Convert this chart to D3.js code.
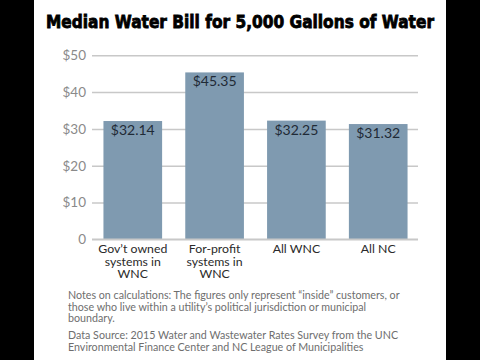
<!DOCTYPE html>
<html><head><meta charset="utf-8">
<script src="https://cdn.jsdelivr.net/npm/d3@7"></script>
<style>
html,body{margin:0;padding:0;background:#000;}
svg{display:block;}
</style></head>
<body>
<svg id="c" width="480" height="360"></svg>
<script>
const title = "Median Water Bill for 5,000 Gallons of Water";
const categories = [["Gov\u2019t owned","systems in","WNC"],["For-profit","systems in","WNC"],["All WNC"],["All NC"]];
const values = [32.14, 45.35, 32.25, 31.32];
const valueLabels = ["$32.14","$45.35","$32.25","$31.32"];
const yTicks = [0,10,20,30,40,50];
const yTickLabels = ["0","$10","$20","$30","$40","$50"];
const notes = [
  ["Notes on calculations: The figures only represent \u201Cinside\u201D customers, or",
   "those who live within a utility\u2019s political jurisdiction or municipal",
   "boundary."],
  ["Data Source: 2015 Water and Wastewater Rates Survey from the UNC",
   "Environmental Finance Center and NC League of Municipalities"]
];

const svg = d3.select("#c");
svg.append("rect").attr("x",34).attr("y",0).attr("width",412).attr("height",360).attr("fill","#fff");

svg.append("text").attr("x",240).attr("y",27.5).attr("text-anchor","middle")
  .attr("font-family","'DejaVu Sans', sans-serif").attr("font-weight","bold")
  .attr("font-size",17).attr("textLength",388).attr("lengthAdjust","spacingAndGlyphs")
  .attr("fill","#000").attr("stroke","#000").attr("stroke-width",0.8).text(title);

const y = d3.scaleLinear().domain([0,50]).range([239.3,55.3]);
const x = d3.scaleBand().domain(d3.range(values.length)).range([92,419]).paddingInner(0.283).paddingOuter(0.14);

const font = "Lato, 'Open Sans', sans-serif";

// grid + ticks
const yAxis = d3.axisLeft(y).tickValues(yTicks).tickFormat((d,i)=>yTickLabels[i]).tickSize(-(418-92)).tickPadding(6);
const ga = svg.append("g").attr("transform","translate(92,0)").call(yAxis);
ga.select(".domain").remove();
ga.selectAll(".tick line").attr("stroke","#c8c8c8").attr("stroke-width",1.5).attr("x1",0);
ga.selectAll(".tick text").attr("font-family",font).attr("font-size",13.5).attr("fill","#8a8a8a");

// bars
svg.append("g").selectAll("rect").data(values).join("rect")
  .attr("x",(d,i)=>x(i)).attr("width",x.bandwidth())
  .attr("y",d=>y(d)).attr("height",d=>y(0)-y(d)).attr("fill","#7f9ab0");

// baseline on top
svg.append("line").attr("x1",92).attr("x2",418).attr("y1",y(0)).attr("y2",y(0)).attr("stroke","#c8c8c8").attr("stroke-width",1.5);

// value labels
svg.append("g").selectAll("text").data(values).join("text")
  .attr("x",(d,i)=>x(i)+x.bandwidth()/2).attr("y",d=>y(d)+14)
  .attr("text-anchor","middle").attr("font-family",font).attr("font-size",14)
  .attr("fill","#1f2a36").text((d,i)=>valueLabels[i]);

// category labels
const cg = svg.append("g");
categories.forEach((lines,i)=>{
  lines.forEach((ln,j)=>{
    cg.append("text").attr("text-anchor","middle").attr("font-family",font)
      .attr("font-size",12.3).attr("fill","#2a2a2a")
      .attr("x",x(i)+x.bandwidth()/2).attr("y",253+j*12.6).text(ln);
  });
});

// notes
let ny = 299;
notes.forEach((para,pi)=>{
  para.forEach((ln,j)=>{
    svg.append("text").attr("x",68).attr("y",ny).attr("font-family",font).attr("font-size",10.7)
      .attr("fill","#6e6e6e").text(ln);
    ny += 11.7;
  });
  ny += 5;
});
</script>
</body></html>
